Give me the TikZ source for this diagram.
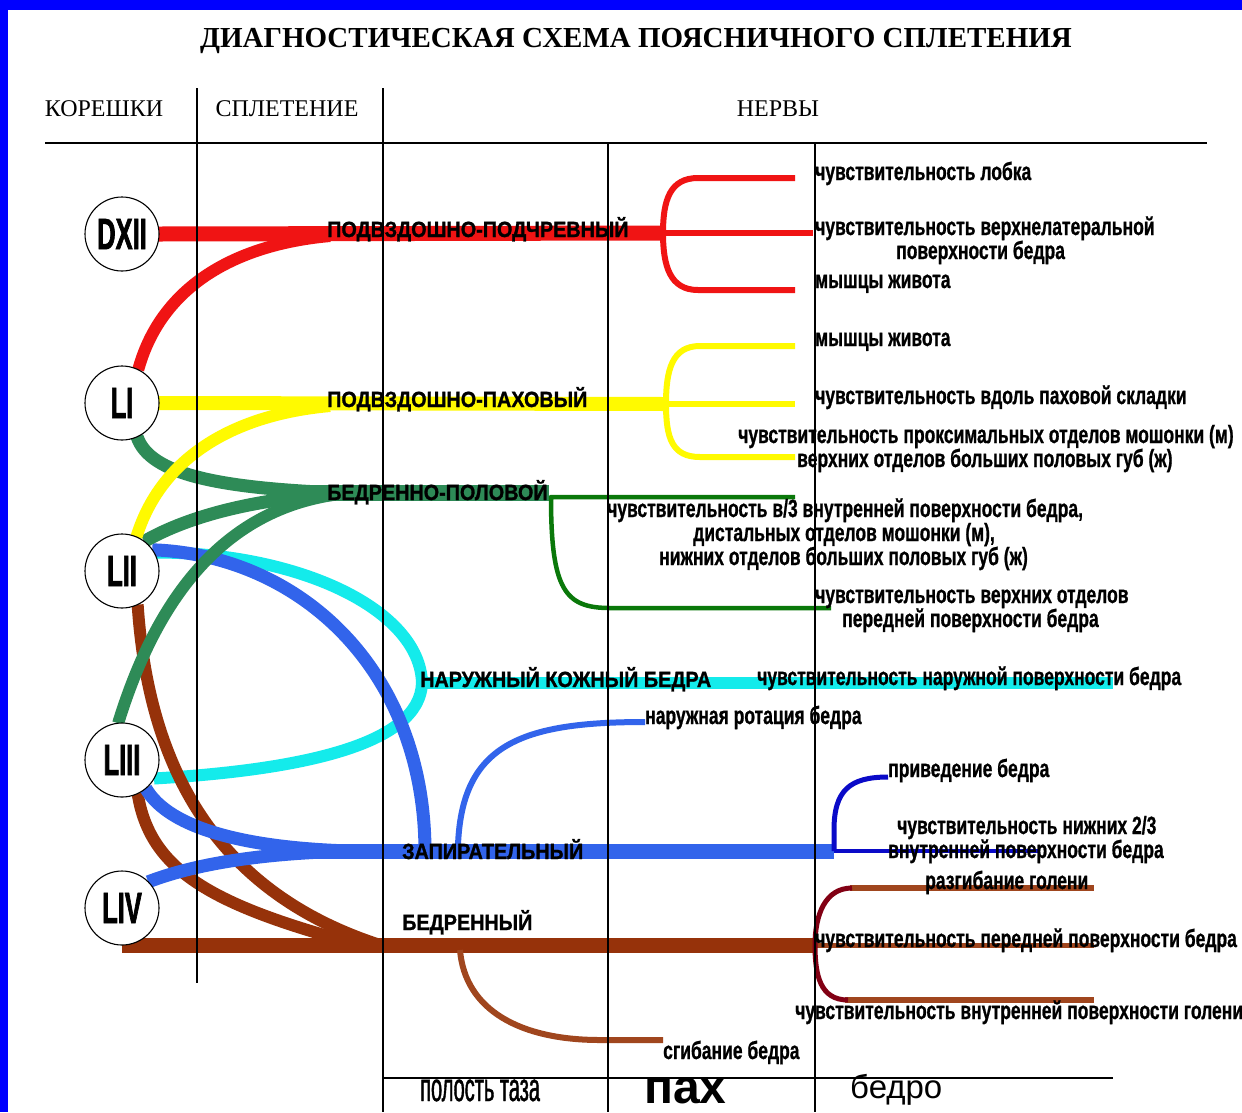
\documentclass[tikz,border=0pt]{standalone}
\usepackage{fontspec}
\setmainfont{Liberation Serif}
\newfontfamily\rootfont[FakeStretch=0.58,FakeBold=1.5]{Liberation Sans}
\newfontfamily\nervefont[FakeStretch=0.9,FakeBold=1.2]{Liberation Sans}
\newfontfamily\labfont[FakeStretch=0.7,FakeBold=0.8]{Liberation Sans}
\newfontfamily\taxfont[FakeStretch=0.5,FakeBold=1]{Liberation Sans}
\newfontfamily\plainsans{Liberation Sans}
\pgfdeclarelayer{bgfill}
\pgfdeclarelayer{curves}
\pgfsetlayers{bgfill,curves,main}
\definecolor{frameblue}{RGB}{0,0,255}
\definecolor{cRed}{RGB}{240,20,20}
\definecolor{cYel}{RGB}{255,250,0}
\definecolor{cGrn}{RGB}{46,139,87}
\definecolor{cDGrn}{RGB}{10,120,10}
\definecolor{cCyan}{RGB}{20,235,235}
\definecolor{cBlue}{RGB}{50,100,235}
\definecolor{cDBlue}{RGB}{10,10,200}
\definecolor{cBrown}{RGB}{150,50,10}
\definecolor{cLBrown}{RGB}{160,70,30}
\definecolor{cMaroon}{RGB}{130,0,20}
\tikzset{
  rootnode/.style={circle, draw, line width=1.1pt, fill=white, minimum size=74pt, inner sep=0pt, outer sep=0pt,
    font=\rootfont\bfseries\fontsize{44}{44}\selectfont},
  lab/.style={inner sep=0pt, anchor=base west, font=\labfont\bfseries\fontsize{25}{27}\selectfont},
  nname/.style={inner sep=0pt, anchor=base west, font=\nervefont\bfseries\fontsize{22}{24}\selectfont},
  hdr/.style={inner sep=0pt, anchor=base, font=\fontsize{24}{26}\selectfont},
  tabline/.style={line width=1.3pt, black},
  nv/.style={line width=#1, line cap=butt, line join=round}
}
\begin{document}
\begin{tikzpicture}[x=1pt,y=-1pt]
\useasboundingbox (0,0) rectangle (1242,1112);
\begin{pgfonlayer}{bgfill}
\fill[white] (0,0) rectangle (1242,1112);
\fill[frameblue] (0,0) rectangle (1242,10);
\fill[frameblue] (0,0) rectangle (8,1112);
\end{pgfonlayer}

% title and headers
\node[inner sep=0pt, anchor=base, font=\bfseries\fontsize{29}{31}\selectfont] (title) at (636,47) {ДИАГНОСТИЧЕСКАЯ СХЕМА ПОЯСНИЧНОГО СПЛЕТЕНИЯ};
\node[hdr] (hRoots) at (104,116) {КОРЕШКИ};
\node[hdr] (hPlex) at (287,116) {СПЛЕТЕНИЕ};
\node[hdr] (hNerves) at (778,116) {НЕРВЫ};

% table lines
\draw[tabline, line width=1.8pt] (45,143) -- (1207,143);
\draw[tabline] (197,88) -- (197,983);
\draw[tabline] (383,88) -- (383,1112);
\draw[tabline] (608,143) -- (608,1112);
\draw[tabline] (815,143) -- (815,1112);
\draw[tabline] (383,1078) -- (1113,1078);

% roots
\node[rootnode] (DXII) at (122,234) {DXII};
\node[rootnode] (LI) at (122,403) {LI};
\node[rootnode] (LII) at (122,571) {LII};
\node[rootnode] (LIII) at (122,760) {LIII};
\node[rootnode] (LIV) at (122,908) {LIV};

% junction coordinates
\coordinate (rJ) at (663,233);
\coordinate (yJ) at (666,404);
\coordinate (gJ) at (549,493);
\coordinate (bJ) at (834,851);
\coordinate (fJ) at (815,945);

\begin{pgfonlayer}{curves}
% cyan: lateral femoral cutaneous
\draw[nv=12pt, cCyan] (LII.30) .. controls (300,552) and (420,610) .. (422,683)
   .. controls (420,745) and (300,770) .. (LIII.-30);
\draw[nv=12pt, cCyan] (416,683) -- (1113,683);
% brown: femoral
\draw[nv=12pt, cBrown] (LII.-65) .. controls (148,760) and (210,890) .. (380,945);
\draw[nv=12pt, cBrown] (LIII.-65) .. controls (150,870) and (210,905) .. (360,945);
\draw[nv=15pt, cBrown] (LIV.south) -- (fJ);
\draw[nv=6pt, cLBrown] (460,950) .. controls (465,1010) and (520,1040) .. (600,1040) -- (663,1040);
\draw[nv=5pt, cLBrown] (fJ) -- (1094,945);
\draw[nv=6pt, cLBrown] (850,888) -- (1094,888);
\draw[nv=6pt, cLBrown] (845,1000) -- (1094,1000);
\draw[nv=5pt, cMaroon] (852,888) .. controls (825,888) and (815,915) .. (fJ)
   .. controls (815,975) and (820,1000) .. (848,1000);
% blue: obturator
\draw[nv=13pt, cBlue] (LII.35) .. controls (300,555) and (425,670) .. (425,852);
\draw[nv=13pt, cBlue] (LIII.-50) .. controls (170,830) and (250,848) .. (350,851);
\draw[nv=13pt, cBlue] (LIV.45) .. controls (200,862) and (270,853) .. (350,851);
\draw[nv=15pt, cBlue] (290,851) -- (bJ);
\draw[nv=6pt, cBlue] (458,845) .. controls (462,745) and (520,722) .. (645,722);
\draw[nv=4pt, cDBlue] (bJ) -- (1040,851);
\draw[nv=5pt, cDBlue] (bJ) -- (834,830) .. controls (834,790) and (850,777) .. (888,777);
% green: genitofemoral
\draw[nv=13pt, cGrn] (LI.-66) .. controls (150,475) and (220,488) .. (340,493);
\draw[nv=13pt, cGrn] (LII.53) .. controls (190,515) and (260,498) .. (340,494);
\draw[nv=12pt, cGrn] (LIII.96) .. controls (150,620) and (210,510) .. (340,494);
\draw[nv=16pt, cGrn] (270,493) -- (gJ);
\draw[nv=4.5pt, cDGrn] (795,497) -- (551,497) .. controls (551,590) and (565,608) .. (610,608) -- (831,608);
% yellow: ilioinguinal
\draw[nv=12pt, cYel] (LII.67) .. controls (160,460) and (230,415) .. (330,406);
\draw[nv=14pt, cYel] (LI.east) -- (yJ);
\draw[nv=6pt, cYel] (yJ) -- (795,404);
\draw[nv=6pt, cYel] (795,346) -- (700,346) .. controls (672,346) and (666,370) .. (yJ)
   .. controls (666,438) and (672,457) .. (700,457) -- (795,457);
% red: iliohypogastric
\draw[nv=12pt, cRed] (LI.64) .. controls (160,290) and (230,245) .. (330,236);
\draw[nv=15pt, cRed] (DXII.east) -- (rJ);
\draw[nv=6pt, cRed] (rJ) -- (813,233);
\draw[nv=6pt, cRed] (795,178) -- (698,178) .. controls (670,178) and (663,200) .. (rJ)
   .. controls (663,266) and (670,290) .. (698,290) -- (795,290);
\end{pgfonlayer}

% nerve names
\node[nname] (n1) at (327,237) {ПОДВЗДОШНО-ПОДЧРЕВНЫЙ};
\node[nname] (n2) at (327,407) {ПОДВЗДОШНО-ПАХОВЫЙ};
\node[nname] (n3) at (327,500) {БЕДРЕННО-ПОЛОВОЙ};
\node[nname] (n4) at (420,687) {НАРУЖНЫЙ КОЖНЫЙ БЕДРА};
\node[nname] (n5) at (402,859) {ЗАПИРАТЕЛЬНЫЙ};
\node[nname] (n6) at (402,930) {БЕДРЕННЫЙ};

% labels: red
\node[lab] (r1) at (815,180) {чувствительность лобка};
\node[lab] (r2) at (815,235) {чувствительность верхнелатеральной};
\node[lab] (r3) at (896,259) {поверхности бедра};
\node[lab] (r4) at (815,288) {мышцы живота};
% yellow
\node[lab] (y1) at (815,346) {мышцы живота};
\node[lab] (y2) at (815,404) {чувствительность вдоль паховой складки};
\node[lab] (y3) at (738,443) {чувствительность проксимальных отделов мошонки (м)};
\node[lab] (y4) at (797,467) {верхних отделов больших половых губ (ж)};
% green
\node[lab] (g1) at (607,517) {чувствительность в/3 внутренней поверхности бедра,};
\node[lab] (g2) at (693,541) {дистальных отделов мошонки (м),};
\node[lab] (g3) at (659,565) {нижних отделов больших половых губ (ж)};
\node[lab] (g4) at (815,603) {чувствительность верхних отделов};
\node[lab] (g5) at (842,627) {передней поверхности бедра};
% cyan
\node[lab] (c1) at (757,685) {чувствительность наружной поверхности бедра};
% blue
\node[lab] (b1) at (645,724) {наружная ротация бедра};
\node[lab] (b2) at (888,777) {приведение бедра};
\node[lab] (b3) at (897,834) {чувствительность нижних 2/3};
\node[lab] (b4) at (888,858) {внутренней поверхности бедра};
% brown
\node[lab] (f1) at (925,889) {разгибание голени};
\node[lab] (f2) at (815,947) {чувствительность передней поверхности бедра};
\node[lab] (f3) at (795,1019) {чувствительность внутренней поверхности голени};
\node[lab] (f4) at (663,1059) {сгибание бедра};

% bottom region labels
\node[inner sep=0pt, anchor=base west, font=\taxfont\fontsize{40}{42}\selectfont] (z1) at (420,1101) {полость таза};
\node[inner sep=0pt, anchor=base west, font=\plainsans\bfseries\fontsize{48}{50}\selectfont] (z2) at (644,1103) {пах};
\node[inner sep=0pt, anchor=base west, font=\plainsans\fontsize{33}{35}\selectfont] (z3) at (850,1098) {бедро};
\end{tikzpicture}
\end{document}
